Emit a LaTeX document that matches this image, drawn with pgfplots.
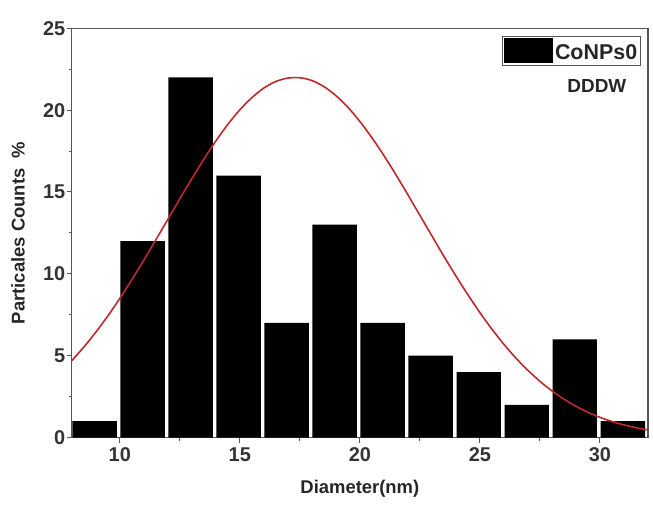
\documentclass[border=0pt]{standalone}
\usepackage{fontspec}
\setmainfont{Liberation Sans}
\usepackage{pgfplots}
\pgfplotsset{compat=1.18}
\definecolor{fitred}{HTML}{C0282D}
\definecolor{axgray}{HTML}{555555}

\begin{document}
\begin{tikzpicture}
\begin{axis}[
  name=ax,
  scale only axis,
  width=576bp, height=409bp,
  xmin=8, xmax=32, ymin=0, ymax=25,
  xtick={10,15,20,25,30}, ytick={0,5,10,15,20,25},
  minor x tick num=1, minor y tick num=1,
  xtick pos=bottom, ytick pos=left,
  tick align=outside,
  major tick length=5bp, minor tick length=3bp,
  every tick/.style={axgray, line width=1bp},
  axis line style={axgray, line width=1.3bp},
  /pgf/number format/assume math mode=true,
  tick label style={font=\fontsize{20}{22}\selectfont\bfseries, text=black!80},
  xticklabel style={yshift=-2bp},
  yticklabel style={xshift=2bp},
  xlabel={Diameter(nm)},
  ylabel={Particales Counts\ \ \%},
  label style={font=\fontsize{18.5}{21}\selectfont\bfseries, text=black!85},
  xlabel style={at={(axis description cs:0.5,-0.1027)}, anchor=north, inner sep=0pt},
  ylabel style={at={(axis description cs:-0.081,0.5)}, anchor=south, inner sep=0pt},
  legend style={at={(rel axis cs:0.988,0.981)}, anchor=north east,
    draw=axgray, line width=0.8bp, inner xsep=1.5bp, inner ysep=1.5bp,
    font=\fontsize{21.5}{23}\selectfont\bfseries, text=black!85,
    /tikz/every even column/.append style={column sep=7bp}},
  legend cell align=left,
]
% histogram of particle diameters, 2 nm bins from 8 to 32 nm
\addplot[ybar, bar width=1.85, bar shift=-0.05, fill=black, draw=none,
  legend image code/.code={\fill[black] (0bp,-11bp) rectangle (49bp,14.5bp);}]
  coordinates {
  (9,1) (11,12) (13,22) (15,16) (17,7) (19,13)
  (21,7) (23,5) (25,4) (27,2) (29,6) (31,1)
};
\addlegendentry{CoNPs0}
% Gaussian fit of the distribution
\addplot[fitred, line width=1.6bp, smooth, forget plot] coordinates {
  (8,4.69) (8.5,5.52) (9,6.43) (9.5,7.42) (10,8.49) (10.5,9.63) (11,10.83)
  (11.5,12.07) (12,13.32) (12.5,14.58) (13,15.81) (13.5,17.00) (14,18.11)
  (14.5,19.13) (15,20.02) (15.5,20.76) (16,21.35) (16.5,21.75) (17,21.96)
  (17.5,21.98) (18,21.81) (18.5,21.44) (19,20.89) (19.5,20.18) (20,19.31)
  (20.5,18.32) (21,17.23) (21.5,16.06) (22,14.83) (22.5,13.57) (23,12.32)
  (23.5,11.07) (24,9.87) (24.5,8.72) (25,7.63) (25.5,6.62) (26,5.69)
  (26.5,4.85) (27,4.10) (27.5,3.43) (28,2.85) (28.5,2.34) (29,1.91)
  (29.5,1.54) (30,1.23) (30.5,0.98) (31,0.77) (31.5,0.60) (32,0.46)
};
\node[font=\fontsize{19}{22}\selectfont\bfseries, text=black!85] at (axis cs:29.87,21.5) {DDDW};
\end{axis}
\path ([xshift=-71.7bp,yshift=-70.3bp]ax.south west) rectangle ([xshift=5bp,yshift=28.3bp]ax.north east);
\end{tikzpicture}
\end{document}
